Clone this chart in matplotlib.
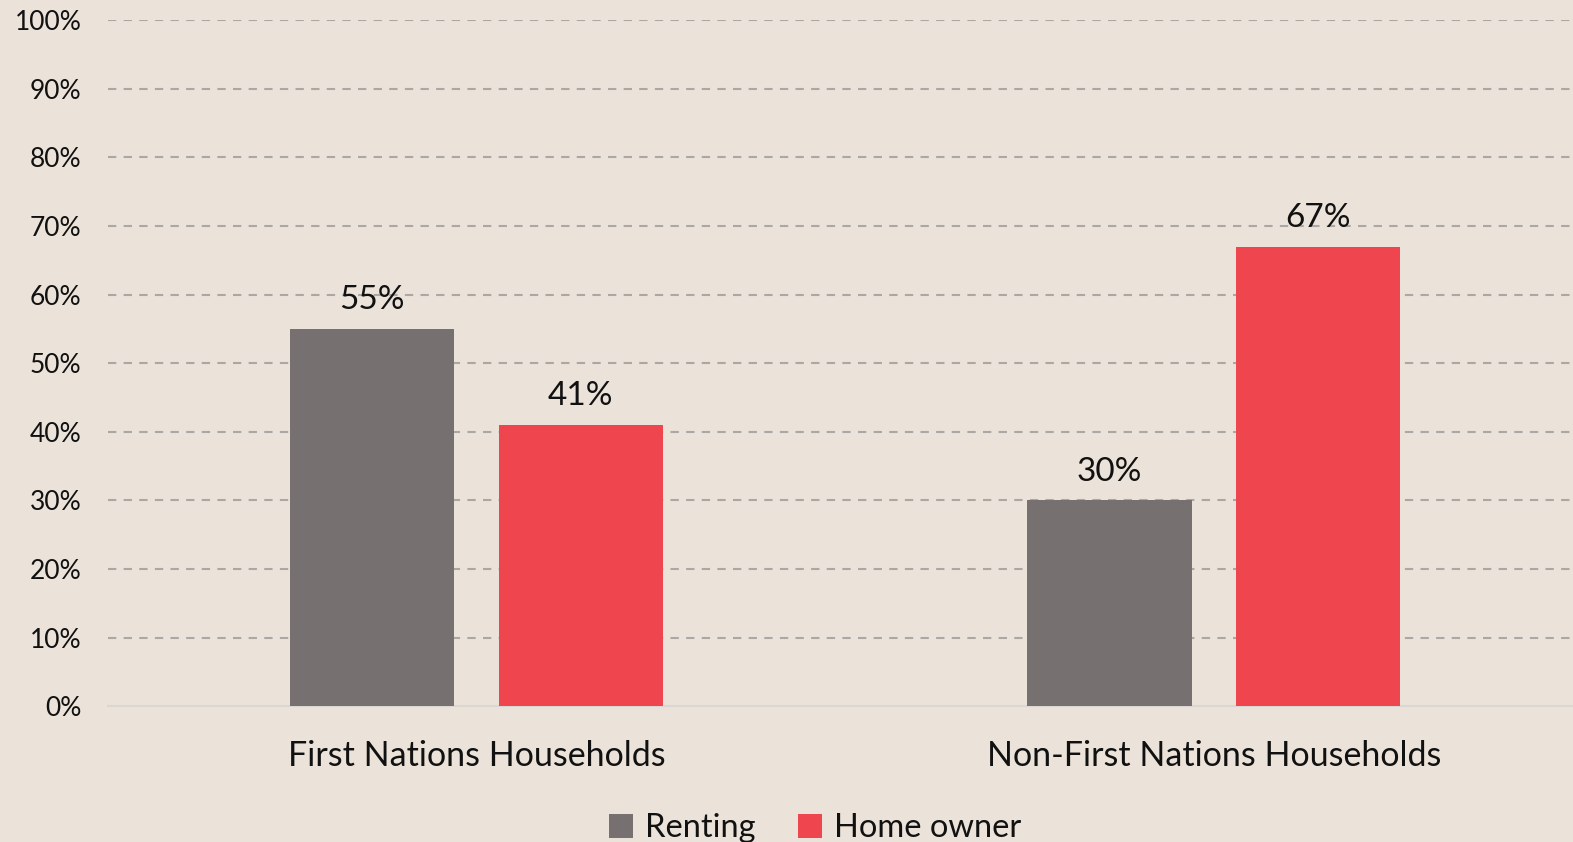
import matplotlib
matplotlib.use('Agg')
import matplotlib.pyplot as plt
import numpy as np

# data
categories = ['First Nations Households', 'Non-First Nations Households']
renting = [55, 30]
home_owner = [41, 67]
series_names = ['Renting', 'Home owner']
yticks = list(range(0, 101, 10))

bg = '#EBE3D9'
c_rent = '#767170'
c_own = '#EF454E'

plt.rcParams['font.family'] = ['Lato', 'DejaVu Sans']

fig = plt.figure(figsize=(15.73, 8.42), dpi=100, facecolor=bg)
ax = fig.add_axes([107.8 / 1573, 1 - 706.3 / 842, 1474.7 / 1573, (706.3 - 20.1) / 842])
ax.set_facecolor(bg)

x = np.arange(len(categories))
w = 0.223
off = 0.1415
b1 = ax.bar(x - off, renting, w, color=c_rent, label=series_names[0], zorder=3)
b2 = ax.bar(x + off, home_owner, w, color=c_own, label=series_names[1], zorder=3)

for bars, vals in ((b1, renting), (b2, home_owner)):
    for b, v in zip(bars, vals):
        ax.text(b.get_x() + b.get_width() / 2, v + 2.0, f'{v}%', ha='center', va='bottom',
                fontsize=24, color='#111111')

ax.set_xlim(-0.5, 1.5)
ax.set_ylim(0, 100)
ax.set_yticks(yticks)
ax.set_yticklabels([f'{t}%' for t in yticks], fontsize=19, color='#111111')
ax.set_xticks(x)
ax.set_xticklabels(categories, fontsize=24.5, color='#111111')
ax.tick_params(axis='both', length=0)
ax.tick_params(axis='y', pad=19)
ax.tick_params(axis='x', pad=24)

for t in yticks[1:]:
    ax.axhline(t, color='#ABA7A5', lw=1.5, ls=(0, (4, 3.5)), zorder=1)
for s in ['top', 'right', 'left']:
    ax.spines[s].set_visible(False)
ax.spines['bottom'].set_color('#D9D6D3')
ax.spines['bottom'].set_linewidth(1.5)

leg = fig.legend(handles=[b1, b2], loc='lower center', bbox_to_anchor=(0.518, -0.036), ncol=2,
                 frameon=False, fontsize=23.5, handlelength=0.75, handleheight=0.75,
                 handletextpad=0.35, columnspacing=1.3)
for t in leg.get_texts():
    t.set_color('#111111')

fig.savefig('out.png', dpi=100, facecolor=bg)
